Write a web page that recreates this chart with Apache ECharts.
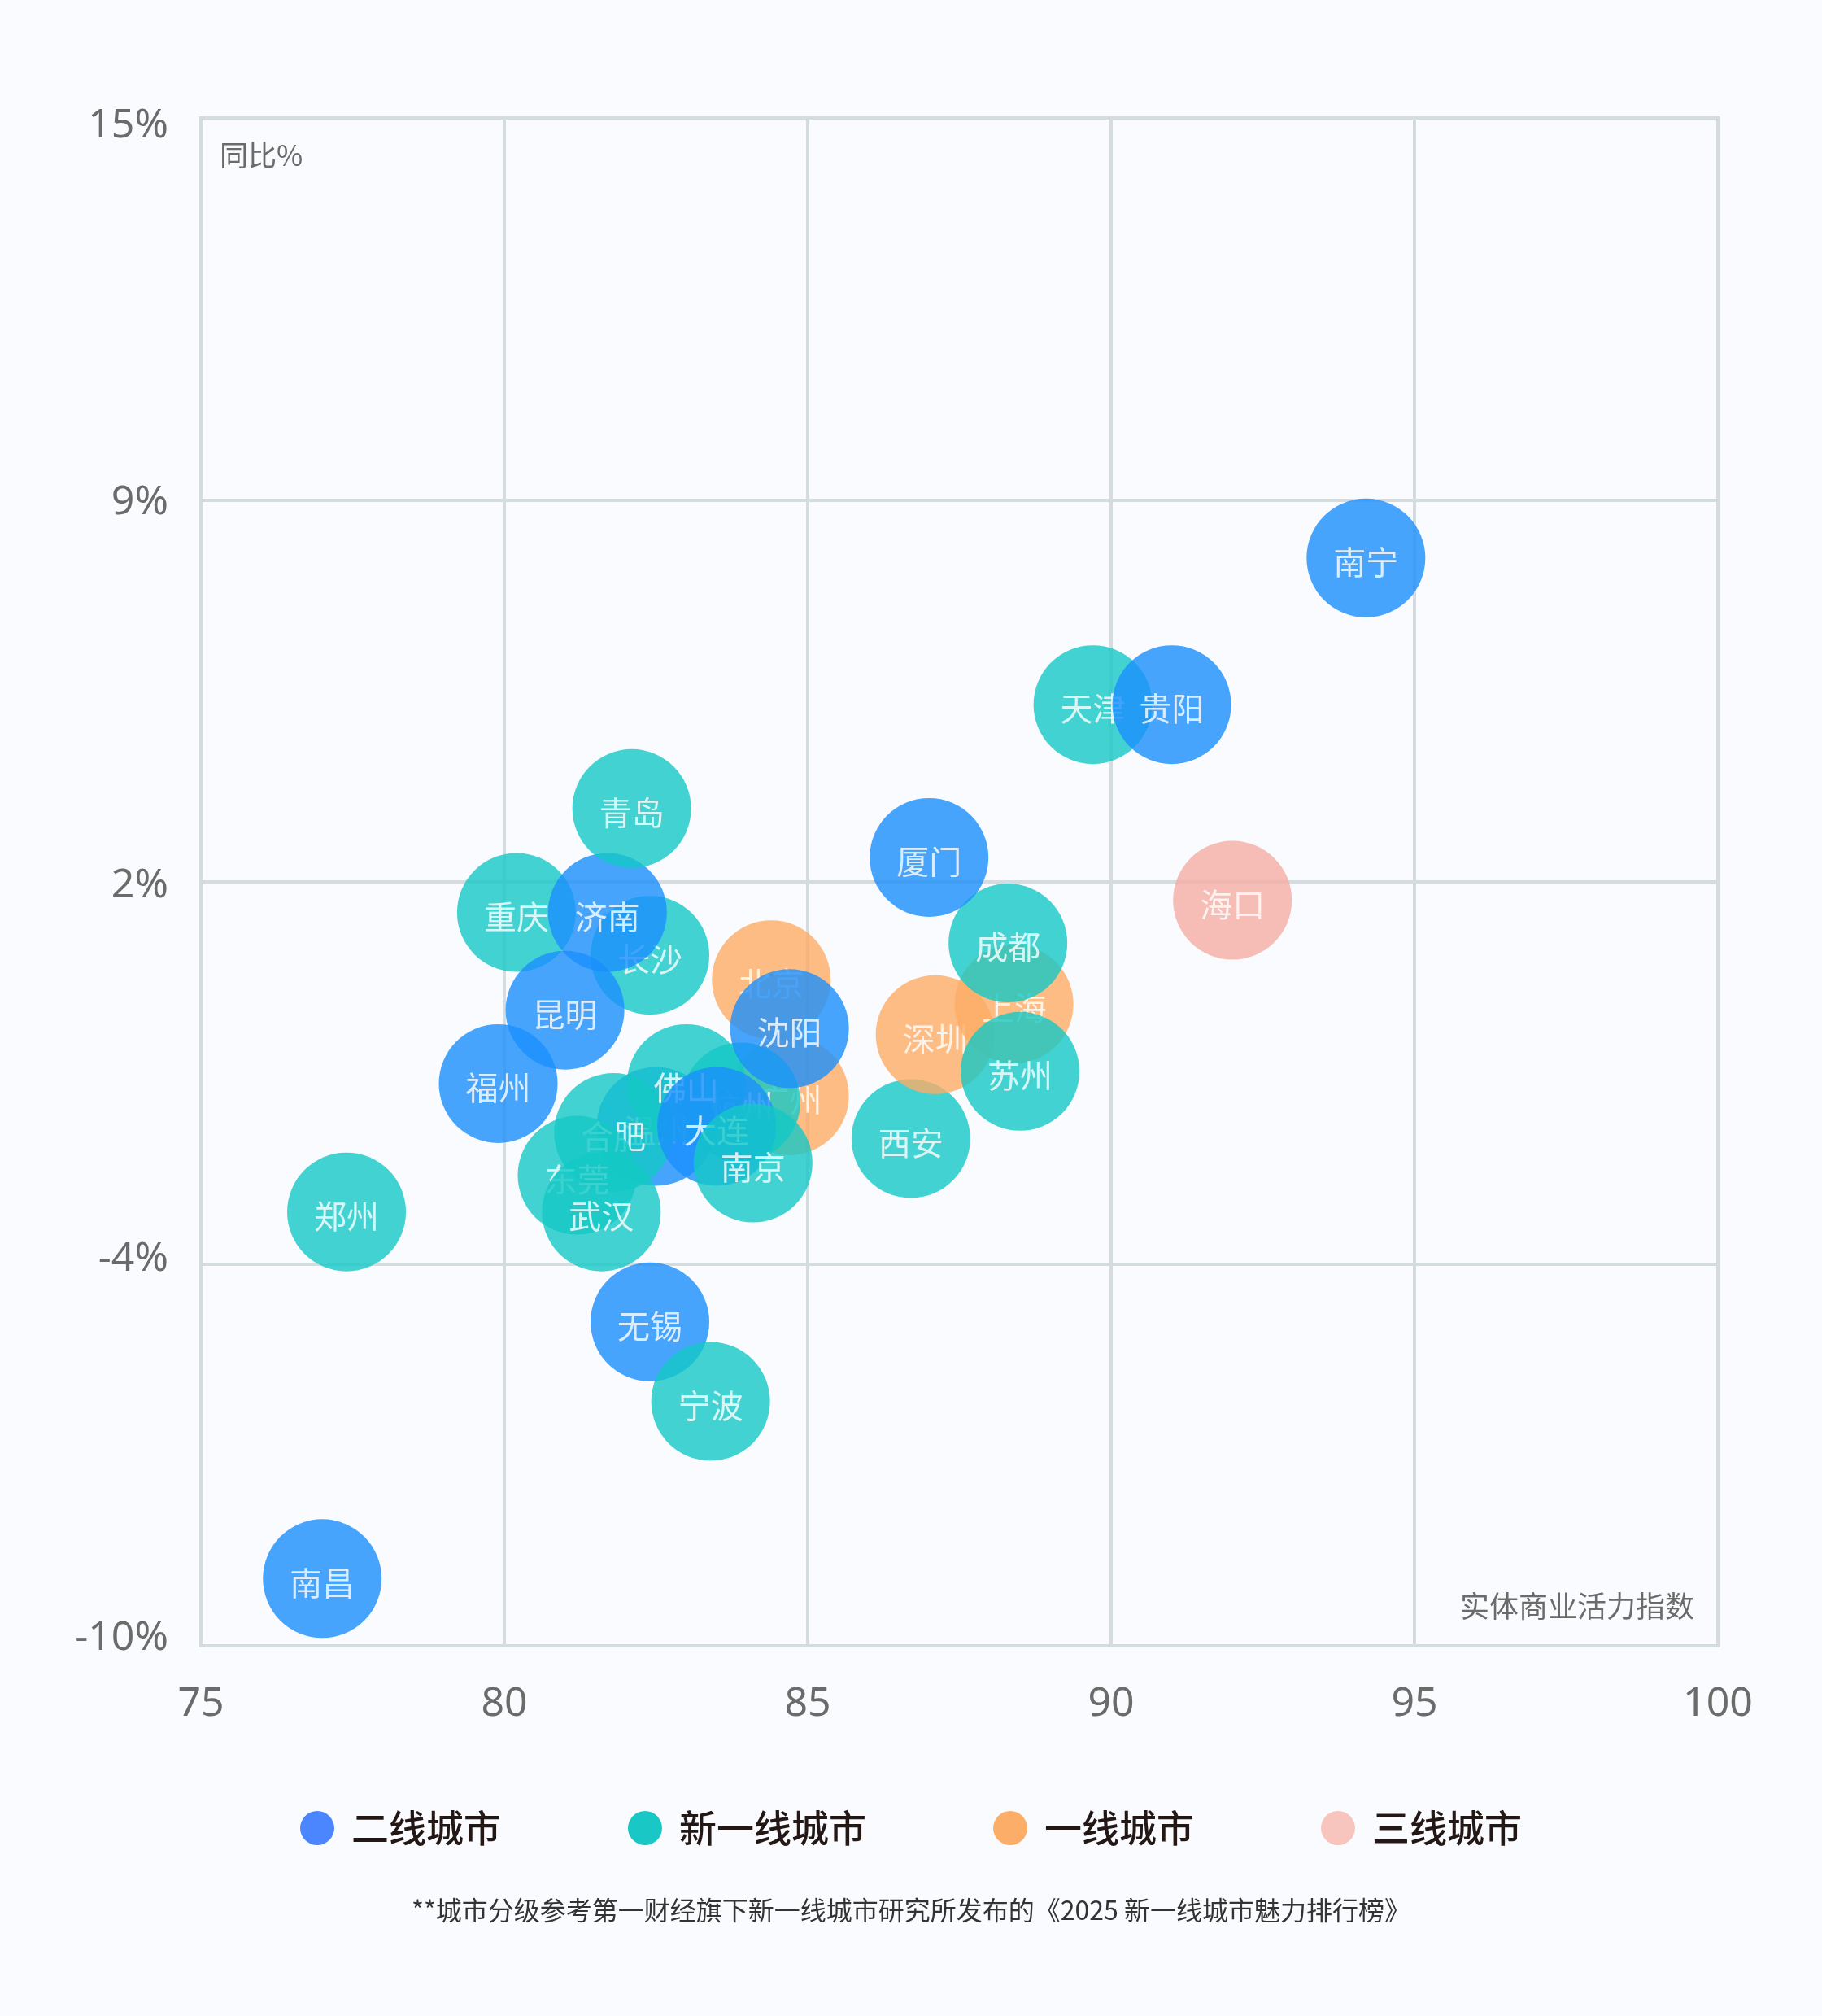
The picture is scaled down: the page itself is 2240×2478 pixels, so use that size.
<!DOCTYPE html>
<html>
<head>
<meta charset="utf-8">
<script src="https://cdn.jsdelivr.net/npm/echarts@6/dist/echarts.min.js"></script>
<style>
    html, body { margin: 0; padding: 0; background: #f9fbfe; }
    #chart { width: 2240px; height: 2478px; }
</style>
</head>
<body>
<div id="chart"></div>
<script>
    // 城市（按绘制先后排列，后画的气泡会盖住前面的标签）
    var cities = ['南昌', '郑州', '无锡', '宁波', '福州', '广州', '杭州', '温州', '合肥', '东莞', '武汉', '佛山', '大连', '南京',
        '北京', '沈阳', '长沙', '重庆', '济南', '昆明', '青岛', '西安', '深圳', '上海', '成都', '苏州', '厦门', '天津', '贵阳', '海口', '南宁'];
    // 实体商业活力指数
    var xValues = [77.0, 77.4, 82.4, 83.4, 79.9, 84.7, 83.9, 82.5, 81.8, 81.2, 81.6, 83.0, 83.5, 84.1,
        84.4, 84.7, 82.4, 80.2, 81.7, 81.0, 82.1, 86.7, 87.1, 88.4, 88.3, 88.5, 87.0, 89.7, 91.0, 92.0, 94.2];
    // 同比%
    var yValues = [-8.9, -2.9, -4.7, -6.0, -0.8, -1.0, -1.1, -1.5, -1.6, -2.3, -2.9, -0.8, -1.5, -2.1,
        0.9, 0.1, 1.3, 2.0, 2.0, 0.4, 3.7, -1.7, 0.0, 0.5, 1.5, -0.6, 2.9, 5.4, 5.4, 2.2, 7.8];
    // 城市分级：0 二线 1 新一线 2 一线 3 三线
    var tiers = [0, 1, 0, 1, 0, 2, 1, 0, 1, 1, 1, 1, 0, 1,
        2, 0, 1, 1, 0, 0, 1, 1, 2, 2, 1, 1, 0, 1, 0, 3, 0];

    var tierNames = ['二线城市', '新一线城市', '一线城市', '三线城市'];
    var bubbleColors = ['#1a8ffd', '#14c8c6', '#fcac65', '#f5aca4'];
    var legendColors = ['#4b86ff', '#19c8c5', '#fcad67', '#f8c4be'];

    var yTickValues = [-10, -3.75, 2.5, 8.75, 15];
    var yTickLabels = ['-10%', '-4%', '2%', '9%', '15%'];

    var fontFamily = '"Noto Sans CJK SC", "Noto Sans", sans-serif';
    var numFont = '"Noto Sans", "Noto Sans CJK SC", sans-serif';

    var chart = echarts.init(document.getElementById('chart'));

    var series = cities.map(function (name, i) {
        var t = tiers[i];
        return {
            name: tierNames[t],
            type: 'scatter',
            z: 2 + i,
            symbolSize: 146,
            data: [{name: name, value: [xValues[i], yValues[i]]}],
            itemStyle: {
                color: bubbleColors[t],
                opacity: 0.8
            },
            label: {
                show: true,
                position: 'inside',
                offset: [0, 5],
                formatter: '{b}',
                color: '#fff',
                fontSize: 40,
                fontFamily: fontFamily
            },
            emphasis: {disabled: true}
        };
    });

    // y轴刻度文字的上下微调
    var yLabelRich = {
        t0: {padding: [0, 0, 19, 0]},
        t1: {padding: [0, 0, 12, 0]},
        t2: {padding: [10, 0, 0, 0]},
        t3: {padding: [6, 0, 0, 0]},
        t4: {padding: [19, 0, 0, 0]}
    };
    Object.keys(yLabelRich).forEach(function (key) {
        yLabelRich[key].color = '#6b6b6b';
        yLabelRich[key].fontSize = 50;
        yLabelRich[key].fontFamily = numFont;
    });

    var option = {
        backgroundColor: '#f9fbfe',
        animation: false,
        grid: {
            left: 247,
            right: 128,
            top: 145,
            bottom: 455,
            show: true,
            borderColor: '#d3dadf',
            borderWidth: 4,
            backgroundColor: 'transparent'
        },
        legend: {
            top: 2219,
            left: 'center',
            icon: 'circle',
            itemWidth: 42,
            itemHeight: 42,
            itemGap: 156,
            data: tierNames.map(function (n, k) {
                return {name: n, itemStyle: {color: legendColors[k], opacity: 1}};
            }),
            textStyle: {
                color: '#231815',
                fontSize: 46,
                fontWeight: 500,
                fontFamily: fontFamily,
                padding: [0, 0, 0, 16]
            }
        },
        xAxis: {
            type: 'value',
            min: 75,
            max: 100,
            interval: 5,
            axisLine: {show: false},
            axisTick: {show: false},
            axisLabel: {
                color: '#6b6b6b',
                fontSize: 50,
                margin: 47,
                fontFamily: numFont
            },
            splitLine: {
                lineStyle: {color: '#d5dce0', width: 4}
            }
        },
        yAxis: {
            type: 'value',
            min: -10,
            max: 15,
            axisLine: {show: false},
            axisTick: {show: false, customValues: yTickValues},
            axisLabel: {
                customValues: yTickValues,
                color: '#6b6b6b',
                fontSize: 50,
                margin: 40,
                fontFamily: numFont,
                rich: yLabelRich,
                formatter: function (v) {
                    for (var k = 0; k < yTickValues.length; k++) {
                        if (Math.abs(yTickValues[k] - v) < 1e-6) return '{t' + k + '|' + yTickLabels[k] + '}';
                    }
                    return '';
                }
            },
            splitLine: {
                lineStyle: {color: '#d5dce0', width: 4}
            }
        },
        graphic: [
            {
                type: 'text',
                left: 270,
                top: 173,
                style: {text: '同比%', fill: '#6b6b6b', fontSize: 35, fontFamily: fontFamily}
            },
            {
                type: 'text',
                right: 157,
                top: 1956,
                style: {text: '实体商业活力指数', fill: '#6b6b6b', fontSize: 36, fontFamily: fontFamily}
            },
            {
                type: 'text',
                left: 'center',
                top: 2332,
                style: {
                    text: '**城市分级参考第一财经旗下新一线城市研究所发布的《2025 新一线城市魅力排行榜》',
                    fill: '#333333',
                    fontSize: 32,
                    fontFamily: fontFamily
                }
            }
        ],
        series: series
    };

    chart.setOption(option);
    window.addEventListener('resize', function () {
        chart.resize();
    });
</script>
</body>
</html>
